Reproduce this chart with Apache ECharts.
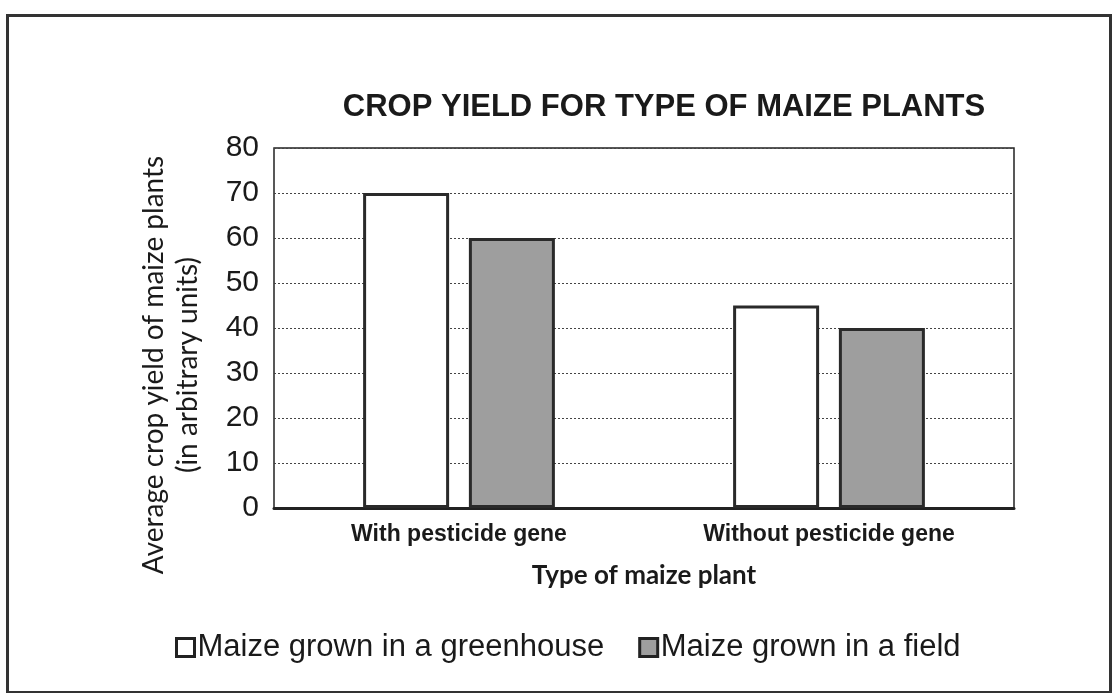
<!DOCTYPE html>
<html>
<head>
<meta charset="utf-8">
<script src="https://cdn.jsdelivr.net/npm/echarts@6/dist/echarts.min.js"></script>
<style>
html,body{margin:0;padding:0;background:#fff;}
#chart{width:1115px;height:693px;}
</style>
</head>
<body>
<div id="chart"></div>
<script>
const categories = ["With pesticide gene", "Without pesticide gene"];
const greenhouse = [70, 45];
const field = [60, 40];
const seriesNames = ["Maize grown in a greenhouse", "Maize grown in a field"];
const yMin = 0, yMax = 80, yStep = 10;

const FONT = '"Liberation Sans", Arial, sans-serif';
const HFONT = 'Lato, "Open Sans", sans-serif';
const chart = echarts.init(document.getElementById('chart'), null, {renderer: 'canvas'});
chart.setOption({
  backgroundColor: '#ffffff',
  animation: false,
  title: {
    text: 'CROP YIELD FOR TYPE OF MAIZE PLANTS',
    left: 659, top: 87, textAlign: 'center',
    textStyle: {fontFamily: FONT, fontSize: 31, fontWeight: 'bold', color: '#1a1a1a'}
  },
  grid: {
    left: 274, right: 101, top: 148, bottom: 185,
    show: true, borderColor: '#222', borderWidth: 1.5, backgroundColor: 'transparent'
  },
  legend: {
    left: 170, top: 627,
    itemWidth: 18, itemHeight: 18, itemGap: 34,
    icon: 'rect',
    itemStyle: {borderColor: '#222', borderWidth: 3},
    textStyle: {fontFamily: FONT, fontSize: 31, color: '#1a1a1a', padding: [0,0,0,-2]},
    data: seriesNames
  },
  xAxis: {
    type: 'category',
    data: categories,
    name: 'Type of maize plant',
    nameLocation: 'middle',
    nameGap: 55,
    nameTextStyle: {fontFamily: HFONT, fontSize: 26, fontWeight: 'bold', color: '#1a1a1a'},
    axisLine: {lineStyle: {color: '#222', width: 3}},
    axisTick: {show: false},
    axisLabel: {fontFamily: FONT, fontSize: 23, fontWeight: 'bold', color: '#1a1a1a', margin: 15}
  },
  yAxis: {
    type: 'value',
    min: yMin, max: yMax, interval: yStep,
    axisLine: {show: false},
    axisTick: {show: false},
    axisLabel: {fontFamily: FONT, fontSize: 30, color: '#1a1a1a', margin: 15},
    splitLine: {lineStyle: {color: '#444', type: [2, 2], width: 1}}
  },
  graphic: [
    {
      type: 'rect', left: 5, top: 13, z: -1,
      shape: {width: 1103, height: 677},
      style: {fill: 'none', stroke: '#333', lineWidth: 3}
    },
    {
      type: 'text', x: 171, y: 365, rotation: Math.PI / 2,
      style: {
        text: 'Average crop yield of maize plants\n(in arbitrary units)',
        fontFamily: HFONT, fontSize: 28, fill: '#1a1a1a',
        textAlign: 'center', textVerticalAlign: 'middle', lineHeight: 34
      },
      originX: 0, originY: 0
    }
  ],
  series: [
    {
      name: seriesNames[0], type: 'bar', data: greenhouse,
      barWidth: 86, barGap: '23%',
      itemStyle: {color: '#ffffff', borderColor: '#2a2a2a', borderWidth: 3}
    },
    {
      name: seriesNames[1], type: 'bar', data: field,
      barWidth: 86,
      itemStyle: {color: '#9e9e9e', borderColor: '#2a2a2a', borderWidth: 3}
    }
  ]
});
</script>
</body>
</html>
